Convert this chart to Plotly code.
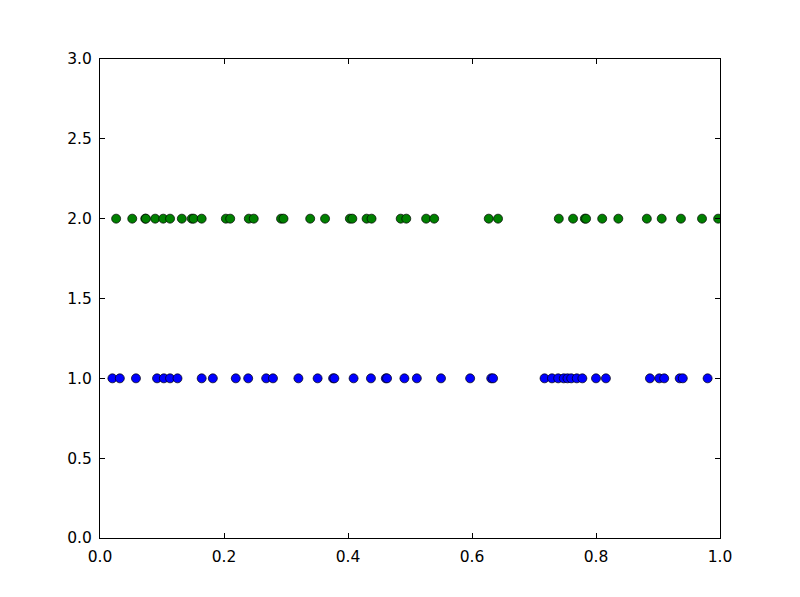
import plotly.graph_objects as go

blue_x = [0.020, 0.032, 0.058, 0.092, 0.103, 0.113, 0.125, 0.164, 0.182, 0.219,
          0.239, 0.268, 0.279, 0.320, 0.351, 0.376, 0.378, 0.409, 0.437, 0.461, 0.463,
          0.491, 0.511, 0.550, 0.597, 0.631, 0.634, 0.717, 0.729, 0.739, 0.748,
          0.754, 0.760, 0.769, 0.778, 0.800, 0.816, 0.887, 0.902, 0.910, 0.935,
          0.940, 0.980]
blue_y = [1.0] * len(blue_x)

green_x = [0.026, 0.052, 0.073, 0.074, 0.089, 0.102, 0.113, 0.132, 0.148, 0.151,
           0.164, 0.203, 0.210, 0.240, 0.248, 0.292, 0.296, 0.339, 0.363, 0.403,
           0.407, 0.430, 0.438, 0.485, 0.494, 0.526, 0.539, 0.627, 0.642, 0.740,
           0.763, 0.782, 0.784, 0.810, 0.836, 0.882, 0.906, 0.937, 0.971, 0.997]
green_y = [2.0] * len(green_x)

x_ticks = [0.0, 0.2, 0.4, 0.6, 0.8, 1.0]
y_ticks = [0.0, 0.5, 1.0, 1.5, 2.0, 2.5, 3.0]

fig = go.Figure()
fig.add_trace(go.Scatter(x=blue_x, y=blue_y, mode="markers",
                         marker=dict(color="#0000ff", size=9,
                                     line=dict(color="black", width=0.7)),
                         cliponaxis=True, showlegend=False))
fig.add_trace(go.Scatter(x=green_x, y=green_y, mode="markers",
                         marker=dict(color="#008000", size=9,
                                     line=dict(color="black", width=0.7)),
                         cliponaxis=True, showlegend=False))

axis_common = dict(showgrid=False, zeroline=False, showline=True, linecolor="black",
                   linewidth=1, mirror="ticks", ticks="inside", ticklen=5,
                   tickcolor="black", tickwidth=1,
                   tickfont=dict(family="DejaVu Sans", size=15.5, color="black"),
                   ticklabelstandoff=4)

fig.update_xaxes(range=[0, 1], tickvals=x_ticks,
                 ticktext=[f"{v:.1f}" for v in x_ticks], **axis_common)
fig.update_yaxes(range=[0, 3], tickvals=y_ticks,
                 ticktext=[f"{v:.1f}" for v in y_ticks], **axis_common)

fig.update_layout(width=800, height=597,
                  margin=dict(l=92, r=88, t=51, b=67),
                  paper_bgcolor="white", plot_bgcolor="white")

fig.write_html("out.html")
